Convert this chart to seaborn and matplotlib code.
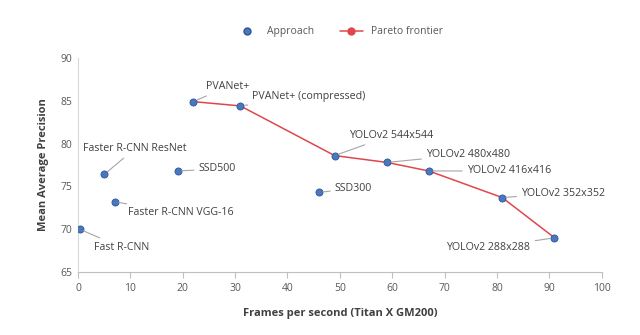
import matplotlib
matplotlib.use("Agg")
import matplotlib.pyplot as plt
import seaborn as sns
import pandas as pd
from matplotlib.lines import Line2D

names = ["Fast R-CNN", "Faster R-CNN VGG-16", "Faster R-CNN ResNet", "SSD500", "PVANet+",
         "PVANet+ (compressed)", "SSD300", "YOLOv2 544x544", "YOLOv2 480x480",
         "YOLOv2 416x416", "YOLOv2 352x352", "YOLOv2 288x288"]
fps = [0.3, 7, 5, 19, 22, 31, 46, 49, 59, 67, 81, 91]
mAP = [70.0, 73.2, 76.4, 76.8, 84.9, 84.4, 74.3, 78.6, 77.8, 76.8, 73.7, 69.0]
frontier = ["PVANet+", "PVANet+ (compressed)", "YOLOv2 544x544", "YOLOv2 480x480",
            "YOLOv2 416x416", "YOLOv2 352x352", "YOLOv2 288x288"]
x_ticks = list(range(0, 101, 10))
y_ticks = list(range(65, 91, 5))

df = pd.DataFrame({"name": names, "fps": fps, "mAP": mAP})
fr = df[df["name"].isin(frontier)].sort_values("fps")

sns.set_style("white")
plt.rcParams["font.family"] = ["Open Sans", "DejaVu Sans"]

blue = "#4a78bd"
red = "#e0474c"
gray_txt = "#404040"

fig = plt.figure(figsize=(6.4, 3.35), dpi=100)
ax = fig.add_axes([0.122, 0.188, 0.818, 0.639])

sns.lineplot(data=fr, x="fps", y="mAP", ax=ax, color=red, lw=1.1, sort=False, zorder=2)
sns.scatterplot(data=df, x="fps", y="mAP", ax=ax, color=blue, s=26,
                edgecolor="#2f5597", linewidth=0.6, zorder=3)

offsets = {
    "Fast R-CNN": (14, -18, "left"),
    "Faster R-CNN VGG-16": (13, -11, "left"),
    "Faster R-CNN ResNet": (31, 26, "center"),
    "SSD500": (21, 2, "left"),
    "PVANet+": (13, 15, "left"),
    "PVANet+ (compressed)": (12, 9, "left"),
    "SSD300": (16, 4, "left"),
    "YOLOv2 544x544": (14, 20, "left"),
    "YOLOv2 480x480": (39, 8, "left"),
    "YOLOv2 416x416": (38, 0, "left"),
    "YOLOv2 352x352": (19, 4, "left"),
    "YOLOv2 288x288": (-24, -10, "right"),
}
for n, xv, yv in zip(names, fps, mAP):
    dx, dy, ha = offsets[n]
    ax.annotate(n, (xv, yv), xytext=(dx, dy), textcoords="offset pixels",
                ha=ha, va="center", fontsize=7.7, color=gray_txt,
                arrowprops=dict(arrowstyle="-", color="#a6a6a6", lw=0.8,
                                shrinkA=1, shrinkB=3))

ax.set_xlim(0, 100)
ax.set_ylim(65, 90)
ax.set_xticks(x_ticks)
ax.set_yticks(y_ticks)
ax.tick_params(axis="both", labelsize=7.5, colors="#595959", length=0, pad=4)
ax.tick_params(axis="x", length=4, color="#bfbfbf", direction="out", bottom=True)
for s in ["top", "right"]:
    ax.spines[s].set_visible(False)
ax.spines["left"].set_color("#d9d9d9")
ax.spines["bottom"].set_color("#bfbfbf")
ax.set_xlabel("Frames per second (Titan X GM200)", fontsize=8, fontweight="bold",
              color="#404040", labelpad=10)
ax.set_ylabel("Mean Average Precision", fontsize=8, fontweight="bold",
              color="#404040", labelpad=8)

handles = [
    Line2D([], [], marker="o", ls="none", color=blue, markeredgecolor="#2f5597",
           markersize=5),
    Line2D([], [], marker="o", color=red, lw=1.1, markersize=5),
]
fig.legend(handles, ["Approach", "Pareto frontier"], loc="center",
           bbox_to_anchor=(0.53, 0.905), ncol=2, frameon=False, fontsize=7.5,
           handlelength=2.2, columnspacing=2.5, labelcolor="#595959")

fig.savefig("out.png", dpi=100)
